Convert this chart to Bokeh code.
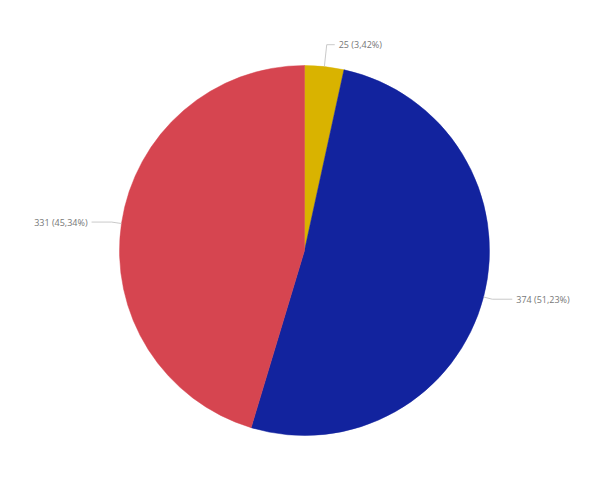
import math
from bokeh.plotting import figure
from bokeh.models import ColumnDataSource, Range1d
from bokeh.core.properties import value
from bokeh.embed import file_html
from bokeh.resources import INLINE

categories = ["A", "B", "C"]
values = [25, 374, 331]
percent_labels = ["3,42%", "51,23%", "45,34%"]
colors = ["#D9B300", "#12239E", "#D64550"]

W, H = 584, 470
p = figure(width=W, height=H, output_backend="svg", toolbar_location=None,
           x_range=Range1d(0, W), y_range=Range1d(0, H), min_border=0)
p.axis.visible = False
p.grid.visible = False
p.outline_line_color = None

cx, cy, r = 304, H - 250, 185
total = sum(values)
starts, ends, mids = [], [], []
a = math.pi / 2
for v in values:
    span = 2 * math.pi * v / total
    starts.append(a)
    ends.append(a - span)
    mids.append(a - span / 2)
    a -= span

src = ColumnDataSource(dict(start=starts, end=ends, color=colors))
p.wedge(x=cx, y=cy, radius=r, radius_units="screen", start_angle="start", end_angle="end",
        direction="clock", fill_color="color", line_color="color", line_width=0.5, source=src)

# leader lines and labels
radial = [22, 9, 10]
horiz = [8, 20, 20]
for i, m in enumerate(mids):
    x0 = cx + r * math.cos(m)
    y0 = cy + r * math.sin(m)
    x1 = cx + (r + radial[i]) * math.cos(m)
    y1 = cy + (r + radial[i]) * math.sin(m)
    side = 1 if math.cos(m) >= 0 else -1
    x2 = x1 + side * horiz[i]
    p.line([x0, x1, x2], [y0, y1, y1], line_color="#BBBBBB", line_width=0.8)
    p.text(x=[x2 + side * 4], y=[y1], text=[f"{values[i]} ({percent_labels[i]})"],
           text_font_size="9px", text_color="#777777", text_font=value("Open Sans"),
           text_baseline="middle", text_align="left" if side > 0 else "right")

open("out.html", "w").write(file_html(p, INLINE))
